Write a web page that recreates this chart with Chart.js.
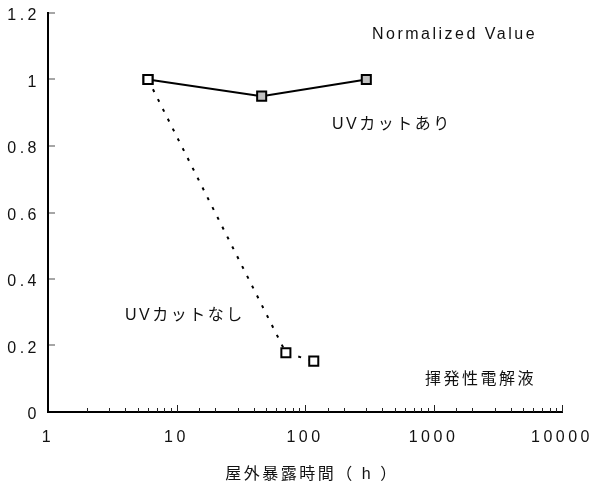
<!DOCTYPE html>
<html>
<head>
<meta charset="utf-8">
<script src="https://cdn.jsdelivr.net/npm/chart.js@4/dist/chart.umd.min.js"></script>
<style>
  html, body { margin: 0; padding: 0; background: #fff; }
  #wrap { width: 601px; height: 488px; }
</style>
</head>
<body>
<div id="wrap"><canvas id="c" width="601" height="488"></canvas></div>
<script>
// Outdoor exposure: hours vs. normalized value
const hoursCut = [6, 46, 300];
const valueCut = [1.0, 0.95, 1.0];
const hoursNoCut = [6, 71, 117];
const valueNoCut = [1.0, 0.178, 0.153];
const yTicks = [0, 0.2, 0.4, 0.6, 0.8, 1, 1.2];
const xDecades = [1, 10, 100, 1000, 10000];
const seriesNames = ['UVカットあり', 'UVカットなし'];
const noteTitle = 'Normalized Value';
const noteElectrolyte = '揮発性電解液';
const xTitle = '屋外暴露時間（ h ）';

const FONT = '"Liberation Sans", "Noto Sans CJK JP", sans-serif';

const toPoints = (xs, ys) => xs.map((x, i) => ({ x: x, y: ys[i] }));

// Inward tick marks on both axes plus free-standing text labels
const decorPlugin = {
  id: 'decor',
  beforeDraw(chart) {
    chart.ctx.letterSpacing = '3.5px';
  },
  afterDraw(chart) {
    const ctx = chart.ctx;
    const xs = chart.scales.x, ys = chart.scales.y;
    const area = chart.chartArea;
    ctx.save();
    ctx.letterSpacing = '0px';
    ctx.strokeStyle = '#222';
    ctx.lineWidth = 1;
    xs.ticks.forEach(t => {
      if (t.value <= xs.min) return;
      const px = Math.round(xs.getPixelForValue(t.value)) + 0.5;
      const len = xDecades.includes(t.value) ? 7 : 4;
      ctx.beginPath();
      ctx.moveTo(px, area.bottom);
      ctx.lineTo(px, area.bottom - len);
      ctx.stroke();
    });
    ctx.strokeStyle = '#888';
    ctx.lineWidth = 1.5;
    yTicks.forEach(v => {
      if (v === 0) return;
      const py = Math.round(ys.getPixelForValue(v));
      ctx.beginPath();
      ctx.moveTo(area.left + 1, py);
      ctx.lineTo(area.left + 7, py);
      ctx.stroke();
    });

    ctx.fillStyle = '#111';
    ctx.font = '16px ' + FONT;
    ctx.letterSpacing = '2.5px';
    ctx.textBaseline = 'middle';
    ctx.textAlign = 'left';
    ctx.fillText(noteTitle, 372, 35);
    ctx.fillText(seriesNames[0], 332, 125);
    ctx.fillText(seriesNames[1], 125, 316);
    ctx.fillText(noteElectrolyte, 425, 380);
    ctx.textAlign = 'center';
    ctx.fillText(xTitle, 312, 475);
    ctx.restore();
  }
};

new Chart(document.getElementById('c'), {
  type: 'line',
  data: {
    datasets: [
      {
        label: seriesNames[0],
        data: toPoints(hoursCut, valueCut),
        borderColor: '#000',
        borderWidth: 2,
        pointStyle: 'rect',
        pointRadius: 6.4,
        pointBackgroundColor: '#c0c0c0',
        pointBorderColor: '#000',
        pointBorderWidth: 2,
        order: 1
      },
      {
        label: seriesNames[1],
        data: toPoints(hoursNoCut, valueNoCut),
        borderColor: '#000',
        borderWidth: 2,
        borderDash: [3, 8],
        pointStyle: 'rect',
        pointRadius: 6.4,
        pointBackgroundColor: '#fff',
        pointBorderColor: '#000',
        pointBorderWidth: 2,
        order: 0
      }
    ]
  },
  options: {
    responsive: false,
    devicePixelRatio: 1,
    animation: false,
    layout: { padding: { top: 13, right: 39, left: 0, bottom: 0 } },
    plugins: { legend: { display: false }, tooltip: { enabled: false } },
    scales: {
      x: {
        type: 'logarithmic',
        position: 'bottom',
        min: 1,
        max: 10000,
        grid: { display: false, drawTicks: false },
        border: { display: true, color: '#000', width: 2 },
        ticks: {
          autoSkip: false,
          maxRotation: 0,
          padding: 16,
          color: '#111',
          font: { family: FONT, size: 16 },
          callback: v => (xDecades.includes(v) ? String(v) : '')
        },
        afterFit: s => {
          s.height = 76;
          s.paddingLeft = 0;
          s.paddingRight = 0;
        }
      },
      y: {
        type: 'linear',
        min: 0,
        max: 1.2,
        grid: { display: false, drawTicks: false },
        border: { display: true, color: '#000', width: 2 },
        afterBuildTicks: s => { s.ticks = yTicks.map(v => ({ value: v })); },
        ticks: {
          padding: 8,
          labelOffset: 3,
          color: '#111',
          font: { family: FONT, size: 16 },
          callback: v => String(v)
        },
        afterFit: s => {
          s.width = 48;
          s.paddingTop = 0;
          s.paddingBottom = 0;
        }
      }
    }
  },
  plugins: [decorPlugin]
});
</script>
</body>
</html>
